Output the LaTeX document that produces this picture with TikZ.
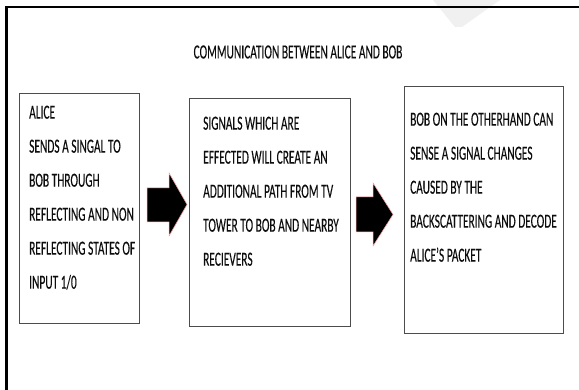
\documentclass[tikz,border=0pt]{standalone}
\usepackage{fontspec}
\setmainfont[FakeStretch=0.57, FakeBold=0.15]{Carlito}
\begin{document}
\begin{tikzpicture}[x=1pt,y=-1pt,
  box/.style={draw=black!70, line width=1pt, fill=white, inner sep=0pt, anchor=north west},
  txt/.style={anchor=north west, align=left, inner sep=0pt, font=\fontsize{20}{34}\selectfont, text=black!95},
  barrow/.style={fill=black, draw=red!35, line width=0.5pt, line join=miter}]
\useasboundingbox (0,0) rectangle (579,390);
\fill[white] (0,0) rectangle (579,390);
% faint watermark stroke
\fill[gray!12] (433,0) -- (500,0) -- (462,27) -- (455,27) -- cycle;
% outer frame (left and top visible)
\draw[line width=2.6pt] (6.5,390) -- (6.5,7) -- (579,7);
% title
\node[font=\fontsize{20}{24}\selectfont, text=black!95, inner sep=0pt] (title) at (298,52) {COMMUNICATION BETWEEN ALICE AND BOB};
% boxes
\node[box, minimum width=120pt, minimum height=230pt] (b1) at (19,93) {};
\node[box, minimum width=161pt, minimum height=228pt] (b2) at (189,98) {};
\node[box, minimum width=159pt, minimum height=247pt] (b3) at (404,86) {};
% texts
\node[txt] (t1) at (29,105.5) {ALICE\\SENDS A SINGAL TO\\BOB THROUGH\\REFLECTING AND NON\\REFLECTING STATES OF\\INPUT 1/0};
\node[txt] (t2) at (203,116.5) {SIGNALS WHICH ARE\\EFFECTED WILL CREATE AN\\ADDITIONAL PATH FROM TV\\TOWER TO BOB AND NEARBY\\RECIEVERS};
\node[txt] (t3) at (410,112.5) {BOB ON THE OTHERHAND CAN\\SENSE A SIGNAL CHANGES\\CAUSED BY THE\\BACKSCATTERING AND DECODE\\ALICE'S PACKET};
% block arrows
\coordinate (a1) at (147,205);
\coordinate (a2) at (356,214.5);
\draw[barrow, shift={(a1)}] (0,-17) -- (22,-17) -- (22,-32) -- (40,-0.5) -- (22,31) -- (22,17) -- (0,17) -- cycle;
\draw[barrow, shift={(a2)}] (0,-17.5) -- (17,-17.5) -- (17,-31.5) -- (37,0) -- (17,31.5) -- (17,17.5) -- (0,17.5) -- cycle;
\end{tikzpicture}
\end{document}
